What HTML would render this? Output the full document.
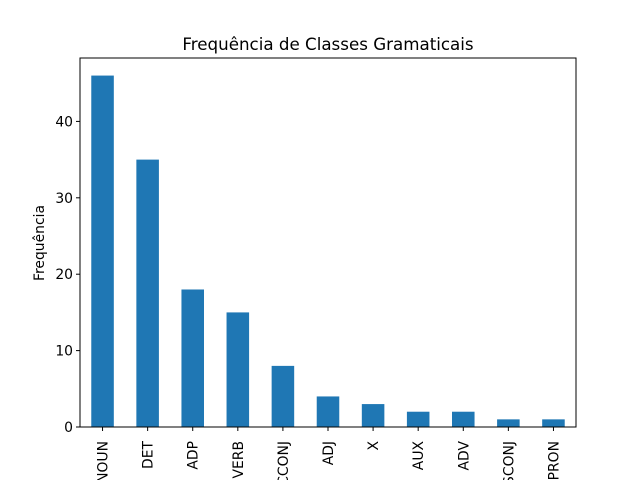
<!DOCTYPE html>
<html><head><meta charset="utf-8"><style>
body{margin:0;background:#fff;}
svg{display:block;font-family:"DejaVu Sans","Liberation Sans",sans-serif;}
</style></head><body>
<svg id="chart" width="640" height="480" viewBox="0 0 640 480">
<rect width="640" height="480" fill="#fff"/>
<text x="328" y="50" font-size="16.7" text-anchor="middle">Frequência de Classes Gramaticais</text>
<text transform="translate(44,243) rotate(-90)" font-size="13.9" text-anchor="middle">Frequência</text>
<g id="bars"></g><g id="yticks"></g><g id="xticks"></g>
<rect x="80" y="58" width="496" height="369" fill="none" stroke="#000" stroke-width="1"/>
</svg>
<script>
const categories=["NOUN","DET","ADP","VERB","CCONJ","ADJ","X","AUX","ADV","SCONJ","PRON"];
const values=[46,35,18,15,8,4,3,2,2,1,1];
const yTicks=[0,10,20,30,40];
const L=80,R=576,T=58,B=427,yMax=48.3;
const ns="http://www.w3.org/2000/svg";
const y=v=>B-v/yMax*(B-T);
const step=(R-L)/categories.length;
const x=i=>L+step*(i+0.5);
const bars=document.getElementById('bars'),yt=document.getElementById('yticks'),xt=document.getElementById('xticks');
categories.forEach((c,i)=>{
 const r=document.createElementNS(ns,'rect');
 r.setAttribute('x',x(i)-step/4);r.setAttribute('width',step/2);
 r.setAttribute('y',y(values[i]));r.setAttribute('height',B-y(values[i]));
 r.setAttribute('fill','#1f77b4');
 
 
 bars.appendChild(r);
 const l=document.createElementNS(ns,'line');
 l.setAttribute('x1',x(i));l.setAttribute('x2',x(i));l.setAttribute('y1',B);l.setAttribute('y2',B+4);l.setAttribute('stroke','#000');
 xt.appendChild(l);
 const t=document.createElementNS(ns,'text');
 t.setAttribute('transform','translate('+(x(i)+5)+','+(B+14)+') rotate(-90)');
 t.setAttribute('font-size','13.9');t.setAttribute('text-anchor','end');
 t.textContent=c;
 
 
 xt.appendChild(t);
});
yTicks.forEach(v=>{
 const l=document.createElementNS(ns,'line');
 l.setAttribute('x1',L-4);l.setAttribute('x2',L);l.setAttribute('y1',y(v));l.setAttribute('y2',y(v));l.setAttribute('stroke','#000');
 yt.appendChild(l);
 const t=document.createElementNS(ns,'text');
 t.setAttribute('x',L-7);t.setAttribute('y',y(v)+5);t.setAttribute('font-size','13.9');t.setAttribute('text-anchor','end');
 t.textContent=v;
 
 
 yt.appendChild(t);
});
</script>
</body></html>
